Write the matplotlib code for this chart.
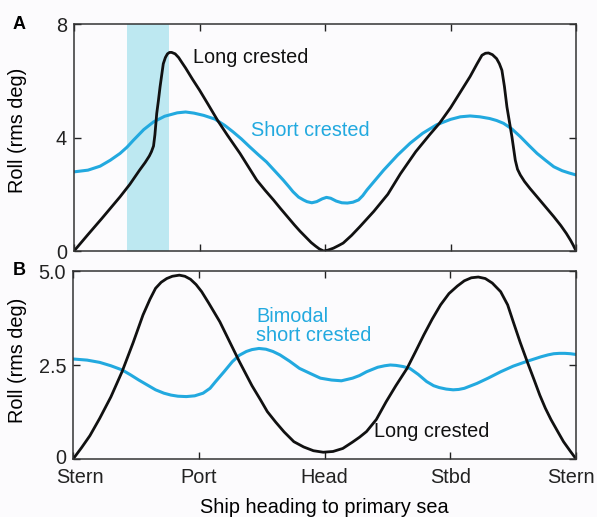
import matplotlib
matplotlib.use("Agg")
import matplotlib.pyplot as plt
from matplotlib.transforms import ScaledTranslation

plt.rcParams['font.family'] = ['Liberation Sans', 'DejaVu Sans']

# Heading (deg from stern, through port, head, stbd, back to stern)
heading_ticks = [0, 90, 180, 270, 360]
heading_labels = ["Stern", "Port", "Head", "Stbd", "Stern"]

# Panel A - long crested
a_long_hdg = [0, 10, 20, 33, 40, 47, 51, 54, 55.5, 57, 58, 59.3, 60.5, 61.7, 63, 64, 65.5, 67, 68.5, 70,
              72.5, 75, 77, 80, 85, 90, 96, 103, 110, 119, 125, 131, 137, 143, 148, 153,
              158, 162, 166, 170, 173, 176, 179, 182, 186, 190, 193, 199, 205, 215, 225,
              234, 245, 255, 262, 270, 277, 284, 289, 292.5, 295, 297.2, 300, 303, 305,
              306.8, 308.6, 310.4, 312.2, 314, 316.4, 318, 320, 323, 327, 332, 338, 344,
              349, 353, 356, 358, 360]
a_long_roll = [0, 0.58, 1.15, 1.91, 2.35, 2.85, 3.12, 3.35, 3.5, 3.7, 4.1, 4.85, 5.3, 5.79, 6.25, 6.6, 6.82, 6.95, 7.0, 7.0,
               6.95, 6.82, 6.67, 6.45, 6.05, 5.67, 5.18, 4.6, 4.08, 3.44, 2.97, 2.5, 2.14, 1.8, 1.5, 1.21,
               0.92, 0.7, 0.5, 0.3, 0.18, 0.07, 0.0, 0.03, 0.1, 0.2, 0.28, 0.55, 0.86, 1.4, 2.0,
               2.72, 3.5, 4.1, 4.5, 5.05, 5.6, 6.15, 6.6, 6.9, 6.97, 6.98, 6.92, 6.78, 6.6,
               6.37, 5.8, 5.08, 4.55, 4.02, 3.2, 2.88, 2.68, 2.45, 2.2, 1.91, 1.56, 1.21,
               0.9, 0.62, 0.38, 0.2, 0]

# Panel A - short crested
a_short_hdg = [0, 10, 18.7, 26, 33, 38, 42.5, 50, 57, 65, 74, 80, 86, 93, 101, 108, 114,
               120, 126, 132, 138, 144, 150, 154, 157, 161, 164.5, 167, 170.5, 174, 178,
               181, 184, 188, 192, 196, 200, 204, 207, 210, 216, 222, 232, 241, 250, 260,
               270, 277, 284, 291, 298, 303, 308, 314, 320, 326, 332, 338, 344, 350, 355, 360]
a_short_roll = [2.79, 2.85, 2.99, 3.2, 3.44, 3.66, 3.9, 4.28, 4.55, 4.75, 4.87, 4.9, 4.86, 4.78, 4.65, 4.43, 4.2,
                3.95, 3.67, 3.4, 3.14, 2.82, 2.5, 2.27, 2.09, 1.9, 1.8, 1.74, 1.7, 1.74, 1.84,
                1.89, 1.86, 1.76, 1.7, 1.69, 1.72, 1.8, 1.95, 2.15, 2.5, 2.85, 3.38, 3.8, 4.15, 4.45,
                4.64, 4.73, 4.76, 4.73, 4.67, 4.6, 4.5, 4.3, 4.03, 3.73, 3.44, 3.2, 2.97, 2.83, 2.75, 2.68]

# Panel B - long crested
b_long_hdg = [0, 6, 12, 19, 27, 35, 43, 50, 55, 59, 63, 67, 71, 76, 80, 84, 88, 92, 97, 105,
              112, 119, 128, 134, 139, 145, 151, 158, 165, 172, 179, 186, 193, 200, 205,
              210, 217, 224, 231, 239, 245, 251, 257, 263, 269, 275, 280, 285, 290, 295,
              300, 306, 311, 315, 320, 325, 330, 334, 338, 342, 347, 351, 356, 360]
b_long_roll = [0, 0.3, 0.62, 1.08, 1.65, 2.32, 3.1, 3.83, 4.25, 4.54, 4.7, 4.8, 4.86, 4.89, 4.86, 4.78, 4.64, 4.45, 4.15, 3.65,
               3.12, 2.59, 1.95, 1.58, 1.26, 0.98, 0.72, 0.46, 0.32, 0.22, 0.18, 0.2, 0.28, 0.45, 0.58,
               0.73, 1.05, 1.52, 1.95, 2.41, 2.85, 3.3, 3.72, 4.1, 4.4, 4.6, 4.74, 4.82, 4.84, 4.8,
               4.68, 4.45, 4.1, 3.65, 3.1, 2.59, 2.1, 1.7, 1.35, 1.05, 0.72, 0.46, 0.2, 0]

# Panel B - bimodal short crested
b_short_hdg = [0, 10, 19, 27, 35, 41, 47, 53, 59, 65, 70, 75, 81, 87, 93, 98, 102, 108, 114,
               119, 124, 128, 133, 138, 143, 148, 155, 162, 170, 177, 185, 192, 200, 205,
               210, 218, 223, 227, 231, 236, 241, 247, 253, 258, 262, 267, 272, 276, 280,
               289, 297, 306, 315, 325, 335, 340, 344, 348, 352, 356, 360]
b_short_roll = [2.66, 2.63, 2.57, 2.48, 2.37, 2.24, 2.1, 1.97, 1.84, 1.75, 1.7, 1.67, 1.66, 1.68, 1.75, 1.88, 2.06, 2.32, 2.59,
                2.76, 2.86, 2.91, 2.94, 2.92, 2.86, 2.77, 2.6, 2.41, 2.27, 2.15, 2.1, 2.08, 2.15, 2.22,
                2.32, 2.44, 2.48, 2.5, 2.49, 2.46, 2.41, 2.25, 2.06, 1.95, 1.9, 1.86, 1.84, 1.85, 1.88,
                2.01, 2.15, 2.32, 2.47, 2.6, 2.72, 2.77, 2.8, 2.81, 2.81, 2.8, 2.78]

# shaded heading range in panel A
shade_range = (38, 68)

BLACK = "#111111"
BLUE = "#22a9df"
SHADE = "#bde8f1"
FS = 14.3

fig = plt.figure(figsize=(5.97, 5.17), dpi=100, facecolor="#fcfbfd")
ax_a = fig.add_axes([0.124, 0.5145, 0.841, 0.439])
ax_b = fig.add_axes([0.1225, 0.1122, 0.8425, 0.3636])

def shift(label, dx, dy):
    label.set_transform(label.get_transform() + ScaledTranslation(dx / 72, dy / 72, fig.dpi_scale_trans))

for ax in (ax_a, ax_b):
    ax.set_facecolor("#fcfbfd")
    ax.set_xlim(0, 360)
    ax.set_xticks(heading_ticks)
    ax.tick_params(direction="in", length=5, width=1, top=True, right=True,
                   labelsize=FS, pad=5, colors="#222222")
    ax.tick_params(axis="x", pad=6.5)
    for s in ax.spines.values():
        s.set_linewidth(1.1)
        s.set_color("#333333")

# Panel A
ax_a.axvspan(*shade_range, color=SHADE, lw=0)
ax_a.plot(a_short_hdg, a_short_roll, color=BLUE, lw=2.2)
ax_a.plot(a_long_hdg, a_long_roll, color=BLACK, lw=2.0)
ax_a.set_ylim(0, 8)
ax_a.set_yticks([0, 4, 8])
ax_a.set_xticklabels([])
ax_a.set_ylabel("Roll (rms deg)", fontsize=FS)
ax_a.yaxis.set_label_coords(-0.094, 0.533)
ax_a.text(85.5, 6.83, "Long crested", color=BLACK, fontsize=FS, ha="left", va="center")
ax_a.text(126.8, 4.26, "Short crested", color=BLUE, fontsize=FS, ha="left", va="center")
fig.text(0.032, 0.953, "A", fontsize=13, fontweight="bold", ha="center", va="center")

# Panel B
ax_b.plot(b_short_hdg, b_short_roll, color=BLUE, lw=2.2)
ax_b.plot(b_long_hdg, b_long_roll, color=BLACK, lw=2.0)
ax_b.set_ylim(0, 5)
ax_b.set_yticks([0, 2.5, 5])
ax_b.set_yticklabels(["0", "2.5", "5.0"])
ax_b.set_xticklabels(heading_labels)
# end labels sit a little inward in the original
xl = ax_b.get_xticklabels()
shift(xl[0], 5, 0)
shift(xl[-1], -4, 0)
shift(ax_b.get_yticklabels()[0], 0, 2)
ax_b.set_ylabel("Roll (rms deg)", fontsize=FS)
ax_b.yaxis.set_label_coords(-0.092, 0.527)
ax_b.set_xlabel("Ship heading to primary sea", fontsize=FS)
ax_b.xaxis.set_label_coords(0.5, -0.21)
ax_b.text(131, 3.54, "Bimodal\nshort crested", color=BLUE, fontsize=FS, ha="left",
          va="center", linespacing=1.0)
ax_b.text(215, 0.73, "Long crested", color=BLACK, fontsize=FS, ha="left", va="center")
fig.text(0.032, 0.477, "B", fontsize=13, fontweight="bold", ha="center", va="center")

fig.savefig("out.png", dpi=100, facecolor=fig.get_facecolor())
